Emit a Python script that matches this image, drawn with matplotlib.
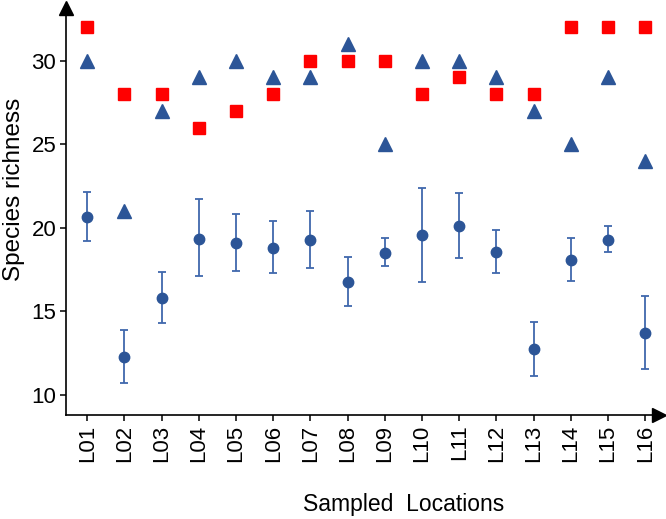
import numpy as np
import matplotlib
matplotlib.use('Agg')
import matplotlib.pyplot as plt

plt.rcParams['font.family'] = ['Liberation Sans', 'DejaVu Sans']

locations = ['L%02d' % i for i in range(1, 17)]
observed = [32, 28, 28, 26, 27, 28, 30, 30, 30, 28, 29, 28, 28, 32, 32, 32]
estimated = [30, 21, 27, 29, 30, 29, 29, 31, 25, 30, 30, 29, 27, 25, 29, 24]
mean_rich = [20.63, 12.25, 15.78, 19.33, 19.07, 18.81, 19.27, 16.75, 18.47, 19.55,
             20.09, 18.55, 12.73, 18.07, 19.29, 13.73]
upper = [22.12, 13.89, 17.38, 21.70, 20.84, 20.41, 20.99, 18.23, 19.37, 22.40,
         22.06, 19.87, 14.37, 19.37, 20.13, 15.90]
lower = [19.19, 10.74, 14.31, 17.12, 17.44, 17.32, 17.58, 15.31, 17.73, 16.78,
         18.19, 17.32, 11.14, 16.84, 18.53, 11.55]

RED = '#ff0000'
BLUE = '#2c5597'
BAR = '#4068ad'

fig = plt.figure(figsize=(6.66, 5.19), dpi=100)
ax = fig.add_axes([66 / 666, 1 - 415 / 519, (659 - 66) / 666, (415 - 8) / 519])

x = np.arange(len(locations))
mean_rich = np.array(mean_rich)
yerr = [mean_rich - np.array(lower), np.array(upper) - mean_rich]

ax.errorbar(x, mean_rich, yerr=yerr, fmt='none', ecolor=BAR, elinewidth=1.3,
            capsize=2.6, capthick=1.3, zorder=2)
ax.plot(x, mean_rich, 'o', color=BLUE, ms=7.5, zorder=3)
ax.plot(x, observed, 's', color=RED, ms=8, zorder=3)
ax.plot(x, estimated, '^', color=BLUE, ms=9.5, zorder=3)

ax.set_xlim(-0.57, 15.37)
ax.set_ylim(8.8, 33.15)
ax.set_yticks([10, 15, 20, 25, 30])
ax.set_xticks(x)
ax.set_xticklabels(locations, rotation=90)
ax.tick_params(labelsize=16, length=4, width=1.1, color='black', pad=3)

for side in ['top', 'right']:
    ax.spines[side].set_visible(False)
for side in ['left', 'bottom']:
    ax.spines[side].set_linewidth(1.2)

# arrow heads on the axes
ax.plot(0, 1, marker='^', color='black', ms=10, transform=ax.transAxes, clip_on=False)
ax.plot(1, 0, marker='>', color='black', ms=10, transform=ax.transAxes, clip_on=False)

fig.text(14 / 666, 1 - 189 / 519, 'Species richness', rotation=90, fontsize=17.5,
         ha='center', va='center')
fig.text(404 / 666, 1 - 504 / 519, 'Sampled  Locations', fontsize=16.5,
         ha='center', va='center')

fig.savefig('out.png', dpi=100)
